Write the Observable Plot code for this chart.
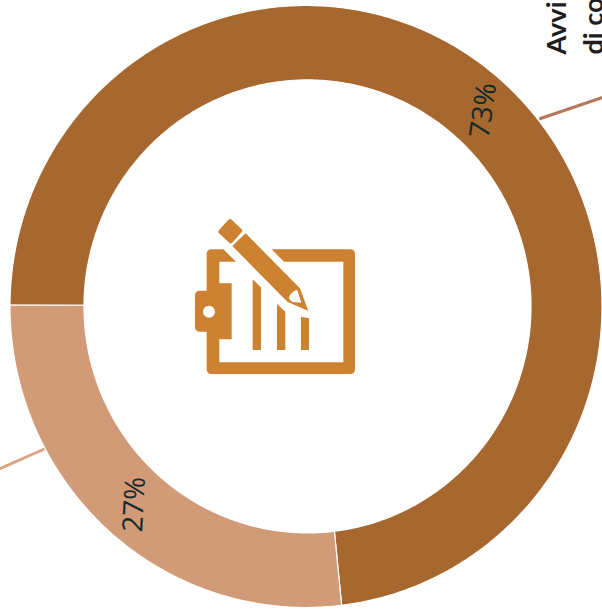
<!DOCTYPE html>
<html>
<head>
<meta charset="utf-8">
<script src="https://cdn.jsdelivr.net/npm/d3@7"></script>
<script src="https://cdn.jsdelivr.net/npm/@observablehq/plot@0.6"></script>
<style>
html,body{margin:0;padding:0;background:#fff;overflow:hidden}
svg{display:block}
</style>
</head>
<body>
<div id="chart"></div>
<script>
const categories = ["A", "B"];
const values = [73, 27];
const labels = ["73%", "27%"];
const sliceColors = ["#a7682f", "#d29b77"];
const leaderColors = ["#b4775a", "#dca582"];
const headingLines = ["Avvi", "di co"];

const W = 602, H = 613;
const outerRing = {cx: 305.5, cy: 306, rx: 296, ry: 301};
const innerRing = {cx: 307, cy: 305.9, rx: 223.5, ry: 226.5};

// slices start at nine o'clock and run clockwise
const tilt = 0.005;
const pie = d3.pie().sort(null).startAngle(1.5 * Math.PI + tilt).endAngle(3.5 * Math.PI + tilt);
const arcs = pie(values);
const polar = (a, e) => [e.cx + e.rx * Math.sin(a), e.cy - e.ry * Math.cos(a)];

const ringRows = arcs.flatMap((arc, i) => {
  const steps = Math.ceil((arc.endAngle - arc.startAngle) * 90);
  const outer = d3.range(steps + 1).map(k => arc.startAngle + (arc.endAngle - arc.startAngle) * k / steps);
  const pts = [...outer.map(a => polar(a, outerRing)), ...outer.slice().reverse().map(a => polar(a, innerRing))];
  return [...pts, pts[0]].map(([x, y]) => ({name: categories[i], x, y}));
});

// value labels and leader lines, placed on each slice
const labelRows = [
  {label: labels[0], x: 483, y: 110, rotate: -82},
  {label: labels[1], x: 134, y: 504, rotate: -87}
];
const leaderRows = [
  {name: categories[0], x: 540, y: 118}, {name: categories[0], x: 602, y: 97},
  {name: categories[1], x: 45, y: 448}, {name: categories[1], x: 0, y: 468}
];
const headingRows = [
  {t: headingLines[0], x: 565, y: 54},
  {t: headingLines[1], x: 602, y: 54}
];

function icon(index, scales, channels, dims) {
  const g = d3.create("svg:g").attr("transform", "translate(180,200) scale(0.33333)");
  const ink = "#cd8232";
  g.append("path").attr("fill", ink).attr("fill-rule", "evenodd").attr("d",
    "M95,148 H130 L168,185 H118 V250 H155 V418 H118 V487 H490 V185 H312 L275,148 H510 Q525,148 525,163 V507 Q525,522 510,522 H95 Q80,522 80,507 V395 H60 Q45,395 45,380 V287 Q45,272 60,272 H80 V163 Q80,148 95,148 Z " +
    "M69,335 a18,18 0 1,0 36,0 a18,18 0 1,0 -36,0 Z");
  g.append("path").attr("fill", ink).attr("d",
    "M218,238 L243,262 V450 H218 Z M291,312 L316,335 V450 H291 Z M363,350 L387,355 V450 H363 Z");
  g.append("path").attr("fill", ink).attr("stroke", ink).attr("stroke-width", 12).attr("stroke-linejoin", "round")
    .attr("d", "M150,63 L181,92 L152,124 L121,95 Z");
  g.append("path").attr("fill", ink).attr("fill-rule", "evenodd").attr("d",
    "M197,100 L157,138 L322,305 L385,333 L360,265 Z M327,290 Q335,273 352,270 L364,308 L338,306 Q327,300 327,290 Z");
  return g.node();
}

const chart = Plot.plot({
  width: W, height: H,
  margin: 0,
  style: {background: "#fff"},
  x: {domain: [0, W], range: [0, W], axis: null},
  y: {domain: [0, H], range: [0, H], axis: null},
  color: {domain: categories, range: sliceColors},
  marks: [
    Plot.line(leaderRows.filter(d => d.name === categories[0]), {x: "x", y: "y", stroke: leaderColors[0], strokeWidth: 3}),
    Plot.line(leaderRows.filter(d => d.name === categories[1]), {x: "x", y: "y", stroke: leaderColors[1], strokeWidth: 3}),
    Plot.line(ringRows, {x: "x", y: "y", z: "name", fill: "name", stroke: "#fff", strokeWidth: 1.2, curve: "linear"}),
    icon,
    ...labelRows.map(d => Plot.text([d], {
      x: "x", y: "y", text: "label", rotate: d.rotate,
      fontSize: 28, fontFamily: "Open Sans", fontWeight: 400, fill: "#14292c"
    })),
    Plot.text(headingRows, {
      x: "x", y: "y", text: "t", rotate: -90, textAnchor: "start", lineAnchor: "bottom",
      fontSize: 27, fontFamily: "Lato", fontWeight: 700, fill: "#1e1e1e"
    })
  ]
});
document.getElementById("chart").appendChild(chart);
</script>
</body>
</html>
